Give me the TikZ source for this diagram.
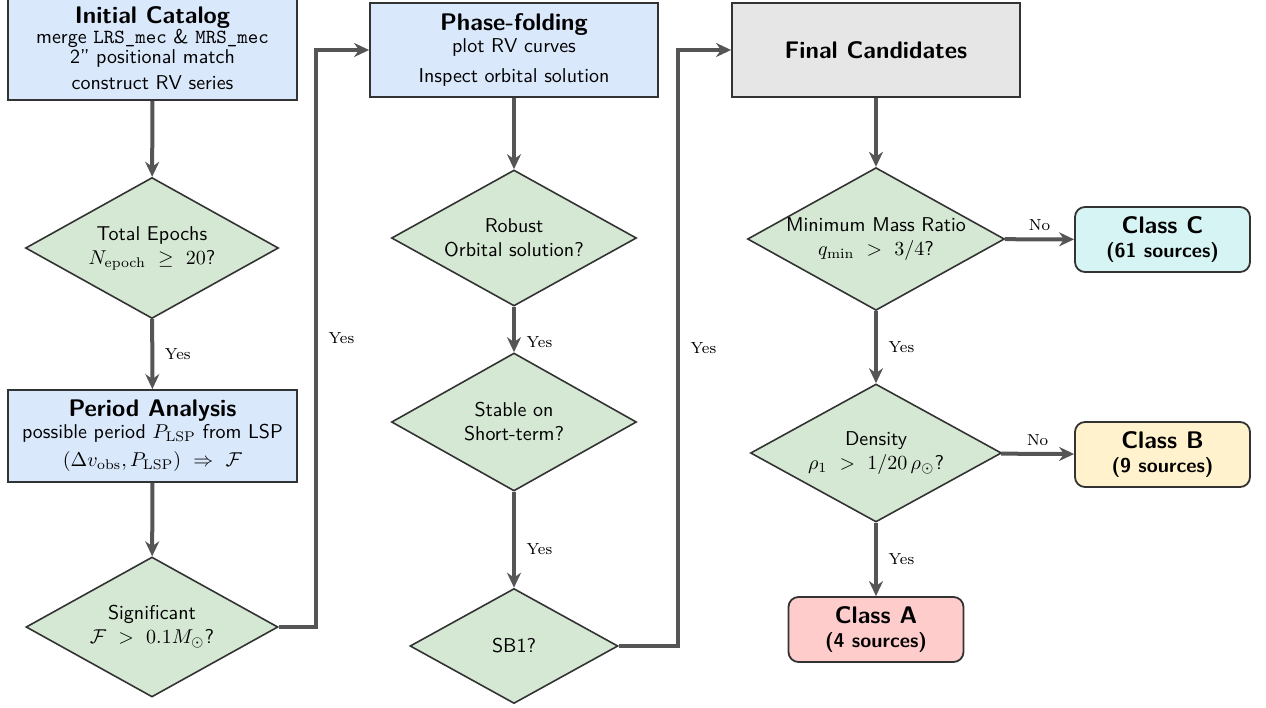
\documentclass[tikz,border=0pt]{standalone}
\usetikzlibrary{shapes.geometric,arrows.meta}
\definecolor{boxblue}{HTML}{DAE8FC}
\definecolor{dgreen}{HTML}{D5E8D4}
\definecolor{fgray}{HTML}{E6E6E6}
\definecolor{ccyan}{HTML}{D6F4F4}
\definecolor{cyel}{HTML}{FFF2CC}
\definecolor{cred}{HTML}{FFCCCC}
\definecolor{bord}{HTML}{333333}
\definecolor{arrc}{HTML}{555555}
\tikzset{
  procbox/.style={draw=bord, line width=0.9pt, fill=boxblue, align=center, inner sep=1pt, font=\sffamily},
  decbox/.style={diamond, draw=bord, line width=0.8pt, fill=dgreen, align=center, inner sep=0pt, aspect=1.8, font=\sffamily},
  classbox/.style={draw=bord, line width=0.9pt, rounded corners=5pt, align=center, inner sep=1pt, font=\sffamily\bfseries, minimum width=87.5pt, minimum height=32.5pt},
  arr/.style={draw=arrc, line width=2pt, -{Stealth[length=7.5pt,width=7pt]}},
  lab/.style={font=\footnotesize, text=black}
}
\begin{document}
\begin{tikzpicture}[x=0.5pt,y=-0.5pt]
\useasboundingbox (0,0) rectangle (1266,708);
% column 1
\node[procbox, minimum width=144.5pt, minimum height=52pt] (ic) at (152.5,48)
  {{\large\bfseries Initial Catalog}\\[-2pt]
   merge \texttt{LRS\_mec} \& \texttt{MRS\_mec}\\[-2pt]
   2'' positional match\\[1pt]
   construct RV series};
\node[decbox, minimum width=126.5pt, minimum height=70.5pt] (d1) at (152,248)
  {Total Epochs\\ $N_{\rm epoch}\ \geq\ 20$?};
\node[procbox, minimum width=144.5pt, minimum height=46pt] (pa) at (152.5,436)
  {{\large\bfseries Period Analysis}\\[-1pt]
   possible period $P_{\rm LSP}$ from LSP\\[2pt]
   $(\Delta v_{\rm obs}, P_{\rm LSP})\ \Rightarrow\ \mathcal{F}$};
\node[decbox, minimum width=126pt, minimum height=70pt] (d2) at (152,627)
  {Significant\\ $\mathcal{F}\ >\ 0.1M_\odot$?};
% column 2
\node[procbox, minimum width=144pt, minimum height=47pt] (pf) at (514,50)
  {{\large\bfseries Phase-folding}\\[-1pt]
   plot RV curves\\[3pt]
   Inspect orbital solution};
\node[decbox, minimum width=122.5pt, minimum height=68pt] (d3) at (514,238)
  {Robust\\ Orbital solution?};
\node[decbox, minimum width=122.5pt, minimum height=69pt] (d4) at (514,422)
  {Stable on\\ Short-term?};
\node[decbox, minimum width=104pt, minimum height=57.5pt] (d5) at (514,646)
  {SB1?};
% column 3
\node[procbox, fill=fgray, minimum width=144pt, minimum height=47pt] (fc) at (876,50)
  {\large\bfseries Final Candidates};
\node[decbox, minimum width=125.5pt, minimum height=69pt] (d6) at (876,239)
  {Minimum Mass Ratio\\ $q_{\rm min}\ >\ 3/4$?};
\node[decbox, minimum width=125.5pt, minimum height=69pt] (d7) at (876,453)
  {Density\\ $\rho_1\ >\ 1/20\,\rho_\odot$?};
\node[classbox, fill=ccyan] (cc) at (1162.5,239.5)
  {{\large Class C}\\ (61 sources)};
\node[classbox, fill=cyel] (cb) at (1162.5,454.5)
  {{\large Class B}\\ (9 sources)};
\node[classbox, fill=cred] (ca) at (876,629.5)
  {{\large Class A}\\ (4 sources)};
% connectors
\coordinate (j1) at (316,627);
\coordinate (j2) at (678,646);
\draw[arr] (ic) -- (d1);
\draw[arr] (d1) -- node[lab, right, xshift=2pt] {Yes} (pa);
\draw[arr] (pa) -- (d2);
\draw[arr] (d2.east) -- (j1) -- node[lab, right, xshift=2pt] {Yes} (j1 |- pf.west) -- (pf.west);
\draw[arr] (pf) -- (d3);
\draw[arr] (d3) -- node[lab, right, xshift=2pt, pos=0.78] {Yes} (d4);
\draw[arr] (d4) -- node[lab, right, xshift=2pt, pos=0.6] {Yes} (d5);
\draw[arr] (d5.east) -- (j2) -- node[lab, right, xshift=2pt] {Yes} (j2 |- fc.west) -- (fc.west);
\draw[arr] (fc) -- (d6);
\draw[arr] (d6) -- node[lab, above] {No} (cc);
\draw[arr] (d6) -- node[lab, right, xshift=2pt] {Yes} (d7);
\draw[arr] (d7) -- node[lab, above] {No} (cb);
\draw[arr] (d7) -- node[lab, right, xshift=2pt] {Yes} (ca);
\end{tikzpicture}
\end{document}
